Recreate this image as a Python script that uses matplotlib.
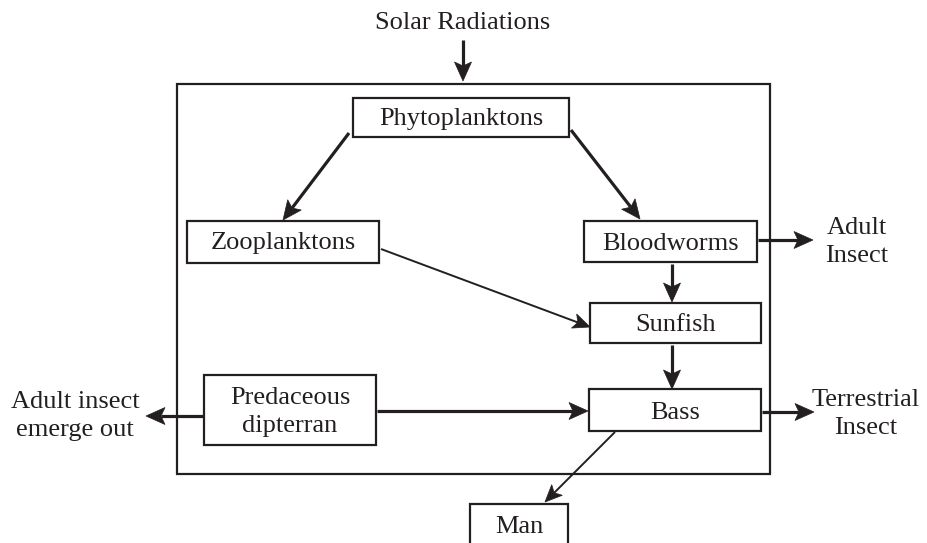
import numpy as np
import matplotlib.pyplot as plt
from matplotlib.patches import Rectangle, Polygon

plt.rcParams['font.family'] = ['Liberation Serif', 'DejaVu Serif']

# node labels
nodes = ['Phytoplanktons', 'Zooplanktons', 'Bloodworms', 'Sunfish',
         'Predaceous\ndipterran', 'Bass', 'Man']
# free labels outside the boxes
outside = ['Solar Radiations', 'Adult\nInsect', 'Terrestrial\nInsect',
           'Adult insect\nemerge out']
# links (from, to, thick?)
links = [('Phytoplanktons', 'Zooplanktons', True),
         ('Phytoplanktons', 'Bloodworms', True),
         ('Zooplanktons', 'Sunfish', False),
         ('Bloodworms', 'Sunfish', True),
         ('Sunfish', 'Bass', True),
         ('Predaceous\ndipterran', 'Bass', True),
         ('Bass', 'Man', False),
         ('Solar Radiations', None, True),
         ('Bloodworms', 'Adult\nInsect', True),
         ('Bass', 'Terrestrial\nInsect', True),
         ('Predaceous\ndipterran', 'Adult insect\nemerge out', True)]

# layout in pixel space (x0, y0, x1, y1)
boxes = {
    'Phytoplanktons': (353, 98, 569, 137),
    'Zooplanktons': (187, 221, 379, 263),
    'Bloodworms': (584, 221, 757, 262),
    'Sunfish': (590, 303, 761, 343),
    'Predaceous\ndipterran': (204, 375, 376, 445),
    'Bass': (589, 389, 761, 431),
    'Man': (470, 504, 568, 560),
}
# baselines of the last line of each label
baselines = {
    'Phytoplanktons': 125, 'Zooplanktons': 249, 'Bloodworms': 250,
    'Sunfish': 331, 'Predaceous\ndipterran': 432, 'Bass': 419, 'Man': 533,
}
text_pos = {
    'Solar Radiations': (463, 29),
    'Adult\nInsect': (857, 262),
    'Terrestrial\nInsect': (866, 434),
    'Adult insect\nemerge out': (75, 436),
}
arrow_pts = {
    ('Phytoplanktons', 'Zooplanktons'): ((349, 133), (283, 220)),
    ('Phytoplanktons', 'Bloodworms'): ((571, 130), (640, 219)),
    ('Zooplanktons', 'Sunfish'): ((381, 249), (590, 327)),
    ('Bloodworms', 'Sunfish'): ((672, 264), (672, 302)),
    ('Sunfish', 'Bass'): ((672, 345), (672, 389)),
    ('Predaceous\ndipterran', 'Bass'): ((377, 411), (588, 411)),
    ('Bass', 'Man'): ((615, 432), (545, 502)),
    ('Solar Radiations', None): ((463, 40), (463, 81)),
    ('Bloodworms', 'Adult\nInsect'): ((758, 240), (813, 240)),
    ('Bass', 'Terrestrial\nInsect'): ((762, 412), (814, 412)),
    ('Predaceous\ndipterran', 'Adult insect\nemerge out'): ((204, 416), (146, 416)),
}

ink = '#231f20'
fs = 19


def draw_arrow(ax, p0, p1, lw, hl=19, hw=8.5, notch=4):
    p0 = np.array(p0, float)
    p1 = np.array(p1, float)
    d = (p1 - p0) / np.linalg.norm(p1 - p0)
    n = np.array([-d[1], d[0]])
    base = p1 - d * hl
    back = base + d * notch
    ax.plot([p0[0], back[0]], [p0[1], back[1]], color=ink, lw=lw,
            solid_capstyle='butt', zorder=4)
    head = [p1, base + n * hw, back, base - n * hw]
    ax.add_patch(Polygon(head, closed=True, facecolor=ink, edgecolor=ink,
                         lw=0.5, zorder=5))


fig = plt.figure(figsize=(9.28, 5.43), dpi=100)
ax = fig.add_axes([0, 0, 1, 1])
ax.set_xlim(0, 928)
ax.set_ylim(543, 0)
ax.axis('off')

# outer pond boundary
ax.add_patch(Rectangle((177, 84), 770 - 177, 474 - 84, fill=False,
                       edgecolor=ink, lw=1.6))

for name in nodes:
    x0, y0, x1, y1 = boxes[name]
    ax.add_patch(Rectangle((x0, y0), x1 - x0, y1 - y0, facecolor='white',
                           edgecolor=ink, lw=1.6, zorder=2))
    ax.text((x0 + x1) / 2, baselines[name], name, ha='center', va='baseline',
            fontsize=fs, color=ink, linespacing=1.38, zorder=3)

for name in outside:
    x, y = text_pos[name]
    ax.text(x, y, name, ha='center', va='baseline', fontsize=fs, color=ink,
            linespacing=1.38)

for a, b, thick in links:
    p0, p1 = arrow_pts[(a, b)]
    if thick:
        draw_arrow(ax, p0, p1, lw=2.3)
    else:
        draw_arrow(ax, p0, p1, lw=1.4, hl=17, hw=7.5)

fig.savefig('out.png', dpi=100)
